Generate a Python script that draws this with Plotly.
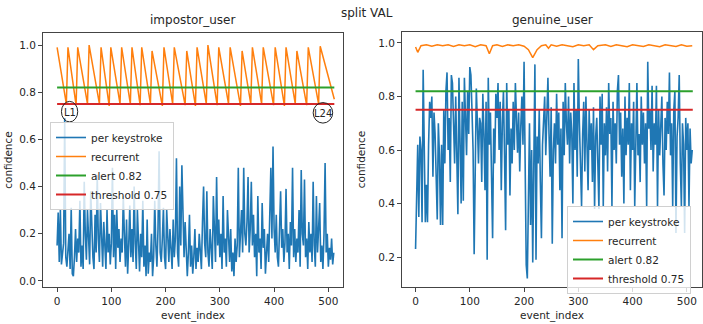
import plotly.graph_objects as go

# ---------------- data ----------------
event_index = list(range(0, 512, 2))

impostor_per_keystroke = [
    0.15, 0.29, 0.08, 0.30, 0.07, 0.12, 0.16, 0.69, 0.10, 0.06,
    0.14, 0.20, 0.05, 0.31, 0.03, 0.02, 0.10, 0.22, 0.08, 0.18,
    0.12, 0.34, 0.06, 0.15, 0.05, 0.42, 0.20, 0.09, 0.30, 0.14,
    0.07, 0.38, 0.22, 0.10, 0.05, 0.28, 0.12, 0.45, 0.18, 0.08,
    0.33, 0.15, 0.06, 0.25, 0.10, 0.05, 0.30, 0.12, 0.20, 0.07,
    0.16, 0.48, 0.10, 0.28, 0.05, 0.30, 0.14, 0.22, 0.08, 0.18,
    0.12, 0.36, 0.20, 0.06, 0.26, 0.03, 0.15, 0.32, 0.10, 0.22,
    0.08, 0.40, 0.16, 0.05, 0.30, 0.12, 0.04, 0.20, 0.10, 0.34,
    0.06, 0.15, 0.02, 0.26, 0.03, 0.12, 0.08, 0.20, 0.02, 0.10,
    0.34, 0.15, 0.06, 0.22, 0.55, 0.12, 0.08, 0.18, 0.31, 0.10,
    0.05, 0.30, 0.14, 0.08, 0.22, 0.12, 0.05, 0.26, 0.10, 0.18,
    0.52, 0.12, 0.06, 0.40, 0.15, 0.49, 0.20, 0.10, 0.25, 0.08,
    0.02, 0.12, 0.28, 0.06, 0.15, 0.03, 0.10, 0.22, 0.05, 0.14,
    0.08, 0.20, 0.12, 0.05, 0.25, 0.40, 0.16, 0.10, 0.38, 0.12,
    0.06, 0.22, 0.14, 0.05, 0.36, 0.18, 0.08, 0.44, 0.15, 0.26,
    0.10, 0.20, 0.05, 0.36, 0.12, 0.18, 0.06, 0.30, 0.14, 0.08,
    0.22, 0.04, 0.12, 0.02, 0.18, 0.08, 0.15, 0.48, 0.10, 0.20,
    0.30, 0.12, 0.48, 0.20, 0.15, 0.25, 0.44, 0.12, 0.22, 0.42,
    0.15, 0.28, 0.10, 0.20, 0.02, 0.36, 0.12, 0.18, 0.05, 0.33,
    0.14, 0.22, 0.03, 0.12, 0.20, 0.08, 0.25, 0.48, 0.18, 0.57,
    0.22, 0.12, 0.28, 0.10, 0.06, 0.18, 0.38, 0.14, 0.22, 0.08,
    0.16, 0.39, 0.12, 0.20, 0.05, 0.25, 0.15, 0.48, 0.10, 0.22,
    0.08, 0.18, 0.12, 0.30, 0.06, 0.47, 0.20, 0.15, 0.43, 0.10,
    0.18, 0.05, 0.25, 0.12, 0.20, 0.08, 0.42, 0.15, 0.06, 0.36,
    0.12, 0.22, 0.33, 0.08, 0.15, 0.05, 0.20, 0.50, 0.12, 0.20,
    0.06, 0.14, 0.09, 0.18, 0.07, 0.12,
]

genuine_per_keystroke = [
    0.23, 0.46, 0.62, 0.35, 0.65, 0.60, 0.33, 0.90, 0.55, 0.33,
    0.47, 0.33, 0.62, 0.78, 0.72, 0.80, 0.50, 0.74, 0.66, 0.45,
    0.34, 0.70, 0.58, 0.32, 0.62, 0.32, 0.75, 0.55, 0.82, 0.89,
    0.60, 0.72, 0.48, 0.88, 0.85, 0.70, 0.55, 0.80, 0.62, 0.36,
    0.87, 0.65, 0.40, 0.78, 0.41, 0.87, 0.70, 0.58, 0.82, 0.66,
    0.91, 0.88, 0.75, 0.60, 0.21, 0.64, 0.83, 0.70, 0.55, 0.72,
    0.70, 0.48, 0.81, 0.66, 0.45, 0.78, 0.19, 0.87, 0.62, 0.74,
    0.50, 0.27, 0.68, 0.55, 0.81, 0.72, 0.85, 0.60, 0.78, 0.45,
    0.70, 0.82, 0.58, 0.30, 0.85, 0.62, 0.75, 0.43, 0.68, 0.55,
    0.78, 0.60, 0.85, 0.66, 0.59, 0.74, 0.52, 0.69, 0.80, 0.62,
    0.93, 0.55, 0.17, 0.12, 0.45, 0.70, 0.32, 0.60, 0.18, 0.50,
    0.92, 0.19, 0.65, 0.55, 0.75, 0.48, 0.27, 0.62, 0.70, 0.80,
    0.58, 0.72, 0.87, 0.66, 0.50, 0.76, 0.25, 0.60, 0.70, 0.55,
    0.81, 0.62, 0.74, 0.45, 0.68, 0.27, 0.78, 0.58, 0.85, 0.70,
    0.62, 0.80, 0.55, 0.74, 0.66, 0.40, 0.85, 0.60, 0.75, 0.50,
    0.94, 0.70, 0.58, 0.39, 0.66, 0.78, 0.52, 0.80, 0.62, 0.45,
    0.75, 0.60, 0.70, 0.48, 0.76, 0.38, 0.65, 0.72, 0.55, 0.38,
    0.80, 0.62, 0.81, 0.39, 0.70, 0.58, 0.76, 0.52, 0.85, 0.66,
    0.72, 0.39, 0.78, 0.60, 0.70, 0.55, 0.82, 0.88, 0.62, 0.74,
    0.50, 0.68, 0.40, 0.80, 0.58, 0.72, 0.62, 0.85, 0.45, 0.70,
    0.60, 0.78, 0.39, 0.72, 0.85, 0.58, 0.66, 0.48, 0.80, 0.62,
    0.74, 0.55, 0.70, 0.39, 0.93, 0.68, 0.75, 0.60, 0.84, 0.52,
    0.70, 0.62, 0.84, 0.39, 0.75, 0.58, 0.68, 0.80, 0.55, 0.43,
    0.72, 0.60, 0.78, 0.66, 0.89, 0.58, 0.70, 0.39, 0.75, 0.82,
    0.29, 0.65, 0.72, 0.88, 0.55, 0.39, 0.70, 0.62, 0.29, 0.72,
    0.60, 0.70, 0.39, 0.68, 0.55, 0.60,
]

impostor_recurrent_x = [0, 17, 20, 35, 38, 56, 59, 78, 81, 96, 99, 116, 119, 135, 138, 153,
                        156, 172, 175, 194, 197, 213, 216, 236, 239, 255, 258, 275, 278, 295,
                        298, 316, 319, 338, 341, 357, 360, 377, 380, 399, 402, 419, 422, 439,
                        442, 460, 463, 482, 485, 511]
impostor_recurrent_y = [0.99, 0.75, 0.99, 0.745, 0.99, 0.75, 1.0, 0.75, 0.99, 0.742, 0.99, 0.75,
                        0.99, 0.75, 0.99, 0.745, 0.99, 0.75, 0.975, 0.742, 0.99, 0.75, 0.99, 0.745,
                        0.975, 0.742, 0.99, 0.75, 1.0, 0.745, 0.99, 0.75, 0.99, 0.742, 0.975, 0.75,
                        0.99, 0.75, 0.99, 0.745, 0.99, 0.742, 0.99, 0.75, 0.975, 0.745, 0.99, 0.75,
                        0.995, 0.77]

genuine_recurrent_x = [0, 4, 10, 20, 30, 40, 50, 60, 70, 80, 90, 100, 110, 120, 130, 136, 142,
                       150, 160, 170, 180, 190, 200, 208, 216, 224, 232, 240, 245, 250, 260, 270,
                       280, 290, 300, 310, 320, 328, 336, 350, 360, 370, 380, 390, 400, 410, 420,
                       430, 440, 450, 460, 470, 480, 490, 500, 510]
genuine_recurrent_y = [0.985, 0.965, 0.99, 0.993, 0.988, 0.993, 0.99, 0.993, 0.987, 0.993, 0.99,
                       0.993, 0.986, 0.993, 0.99, 0.96, 0.99, 0.993, 0.987, 0.993, 0.99, 0.993,
                       0.988, 0.975, 0.945, 0.975, 0.99, 0.993, 0.98, 0.993, 0.988, 0.993, 0.99,
                       0.986, 0.993, 0.99, 0.993, 0.975, 0.99, 0.993, 0.987, 0.993, 0.99, 0.986,
                       0.993, 0.99, 0.987, 0.993, 0.99, 0.986, 0.993, 0.99, 0.987, 0.993, 0.988,
                       0.99]

alert_level = 0.82
threshold_level = 0.75
line_x_span = [0, 511]

lock_labels = ["L1", "L24"]
lock_label_x = [23, 490]
lock_label_y = [0.716, 0.711]

# ---------------- styling ----------------
BLUE, ORANGE, GREEN, RED = "#1f77b4", "#ff7f0e", "#2ca02c", "#d62728"
FONT = "DejaVu Sans"
TXT = "#262626"
W, H = 703, 324

fig = go.Figure()

def add_panel(xa, ya, keys, rec_x, rec_y, legend):
    fig.add_trace(go.Scatter(x=event_index, y=keys, mode="lines", name="per keystroke",
                             line=dict(color=BLUE, width=1.6), xaxis=xa, yaxis=ya, legend=legend))
    fig.add_trace(go.Scatter(x=rec_x, y=rec_y, mode="lines", name="recurrent",
                             line=dict(color=ORANGE, width=1.5), xaxis=xa, yaxis=ya, legend=legend))
    fig.add_trace(go.Scatter(x=line_x_span, y=[alert_level] * 2, mode="lines",
                             name=f"alert {alert_level}", line=dict(color=GREEN, width=2),
                             xaxis=xa, yaxis=ya, legend=legend))
    fig.add_trace(go.Scatter(x=line_x_span, y=[threshold_level] * 2, mode="lines",
                             name=f"threshold {threshold_level}", line=dict(color=RED, width=2),
                             xaxis=xa, yaxis=ya, legend=legend))

add_panel("x", "y", impostor_per_keystroke, impostor_recurrent_x, impostor_recurrent_y, "legend")
add_panel("x2", "y2", genuine_per_keystroke, genuine_recurrent_x, genuine_recurrent_y, "legend2")

def px_x(p):
    return p / W

def px_y(p):
    return 1 - p / H

axis_common = dict(showgrid=False, zeroline=False, showline=True, linecolor="#444",
                   linewidth=1, mirror=True, ticks="outside", ticklen=4, tickcolor="#444",
                   tickfont=dict(family=FONT, size=10.5, color=TXT))

fig.update_layout(
    width=W, height=H, margin=dict(l=0, r=0, t=0, b=0),
    paper_bgcolor="white", plot_bgcolor="white",
    font=dict(family=FONT, color=TXT),
    xaxis=dict(domain=[px_x(43), px_x(343)], range=[-26, 527], tickvals=[0, 100, 200, 300, 400, 500],
               anchor="y", title=dict(text="event_index", font=dict(size=10.5), standoff=6),
               **axis_common),
    yaxis=dict(domain=[px_y(287), px_y(33)], range=[-0.026, 1.051],
               tickvals=[0, 0.2, 0.4, 0.6, 0.8, 1.0], tickformat=".1f", anchor="x",
               title=dict(text="confidence", font=dict(size=10.5), standoff=4), **axis_common),
    xaxis2=dict(domain=[px_x(402), px_x(702)], range=[-25, 528], tickvals=[0, 100, 200, 300, 400, 500],
                anchor="y2", title=dict(text="event_index", font=dict(size=10.5), standoff=6),
                **axis_common),
    yaxis2=dict(domain=[px_y(287), px_y(32)], range=[0.088, 1.041],
                tickvals=[0.2, 0.4, 0.6, 0.8, 1.0], tickformat=".1f", anchor="x2",
                title=dict(text="confidence", font=dict(size=10.5), standoff=10), **axis_common),
    legend=dict(x=px_x(50), y=px_y(122), xanchor="left", yanchor="top",
                bgcolor="rgba(255,255,255,0.8)", bordercolor="#d0d0d0", borderwidth=1,
                font=dict(family=FONT, size=10.5, color=TXT), itemwidth=30, tracegroupgap=0),
    legend2=dict(x=px_x(567), y=px_y(206), xanchor="left", yanchor="top",
                 bgcolor="rgba(255,255,255,0.8)", bordercolor="#d0d0d0", borderwidth=1,
                 font=dict(family=FONT, size=10.5, color=TXT), itemwidth=30, tracegroupgap=0),
    showlegend=True,
)

annotations = [
    dict(text="impostor_user", x=px_x(193), y=px_y(20), xref="paper", yref="paper",
         xanchor="center", yanchor="middle",
         showarrow=False, font=dict(size=12, family=FONT, color=TXT)),
    dict(text="genuine_user", x=px_x(552), y=px_y(20), xref="paper", yref="paper",
         xanchor="center", yanchor="middle",
         showarrow=False, font=dict(size=12, family=FONT, color=TXT)),
    dict(text="split VAL", x=px_x(367), y=px_y(13), xref="paper", yref="paper",
         xanchor="center", yanchor="middle",
         showarrow=False, font=dict(size=12, family=FONT, color=TXT)),
]
shapes = []
for lab, lx, ly in zip(lock_labels, lock_label_x, lock_label_y):
    annotations.append(dict(text=lab, x=lx, y=ly, xref="x", yref="y", showarrow=False,
                            xanchor="center", yanchor="middle",
                            font=dict(size=10, family=FONT, color=TXT)))
    rx = 15 if lab == "L1" else 18
    shapes.append(dict(type="circle", xref="x", yref="y", x0=lx - rx, x1=lx + rx,
                       y0=ly - 0.042, y1=ly + 0.045, line=dict(color="#222", width=1)))
fig.update_layout(annotations=annotations, shapes=shapes)

fig.write_html("out.html")
